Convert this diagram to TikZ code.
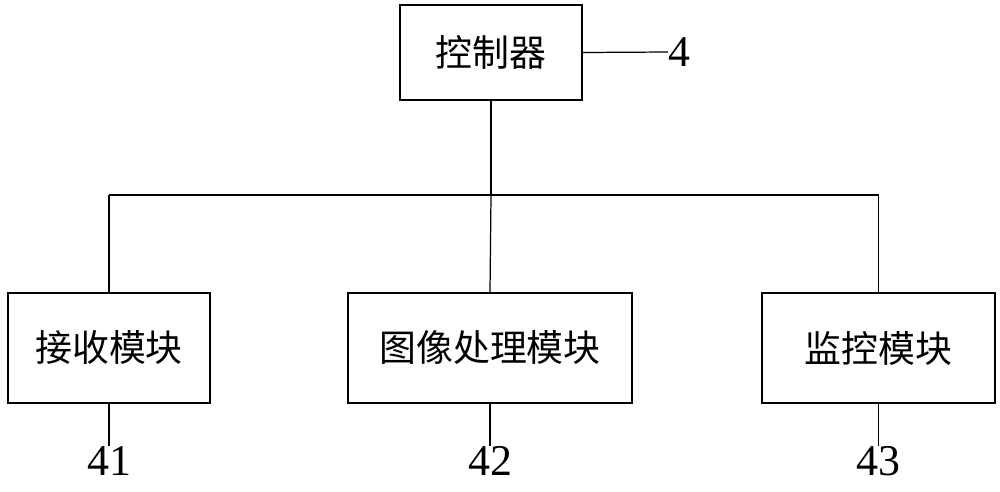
\documentclass[tikz,border=0pt]{standalone}
\usepackage{fontspec}
\setmainfont{Liberation Serif}
\newfontfamily\cjk{Noto Sans CJK SC}
\begin{document}
\begin{tikzpicture}[x=0.02cm,y=-0.02cm,
  box/.style={draw,line width=0.7pt,inner sep=0pt},
  ln/.style={line width=0.7pt},
  cj/.style={font=\cjk\fontsize{21pt}{24pt}\selectfont},
  num/.style={font=\fontsize{25pt}{28pt}\selectfont}]
\useasboundingbox (0,0) rectangle (1000,491);
\node[box,minimum width=182*0.02cm,minimum height=95*0.02cm] (c) at (491,52.5) {};
\node[cj] (ct) at (491,52) {控制器};
\node[box,minimum width=202*0.02cm,minimum height=110*0.02cm] (a) at (109,348) {};
\node[cj] at (109,348) {接收模块};
\node[box,minimum width=284*0.02cm,minimum height=110*0.02cm] (b) at (490,348) {};
\node[cj] at (490,348) {图像处理模块};
\node[box,minimum width=233*0.02cm,minimum height=110*0.02cm] (d) at (878.5,348) {};
\node[cj] at (878.5,348) {监控模块};
\coordinate (j) at (491,195);
\coordinate (jl) at (109,195);
\coordinate (jr) at (878.5,195);
\draw[ln] (c.south) -- (j);
\draw[ln] (jl) -- (jr);
\draw[ln] (jl) -- (a.north);
\draw[ln] (j) -- (b.north);
\draw[ln] (jr) -- (d.north);
\node[num,anchor=west,inner sep=0pt] (n4) at (668,52) {4};
\draw[ln] (c.east) -- (n4.west);
\node[num,anchor=north,inner sep=0pt] (n41) at (109,446) {41};
\node[num,anchor=north,inner sep=0pt] (n42) at (490,446) {42};
\node[num,anchor=north,inner sep=0pt] (n43) at (878.5,446) {43};
\draw[ln] (a.south) -- (n41.north);
\draw[ln] (b.south) -- (n42.north);
\draw[ln] (d.south) -- (n43.north);
\end{tikzpicture}
\end{document}
